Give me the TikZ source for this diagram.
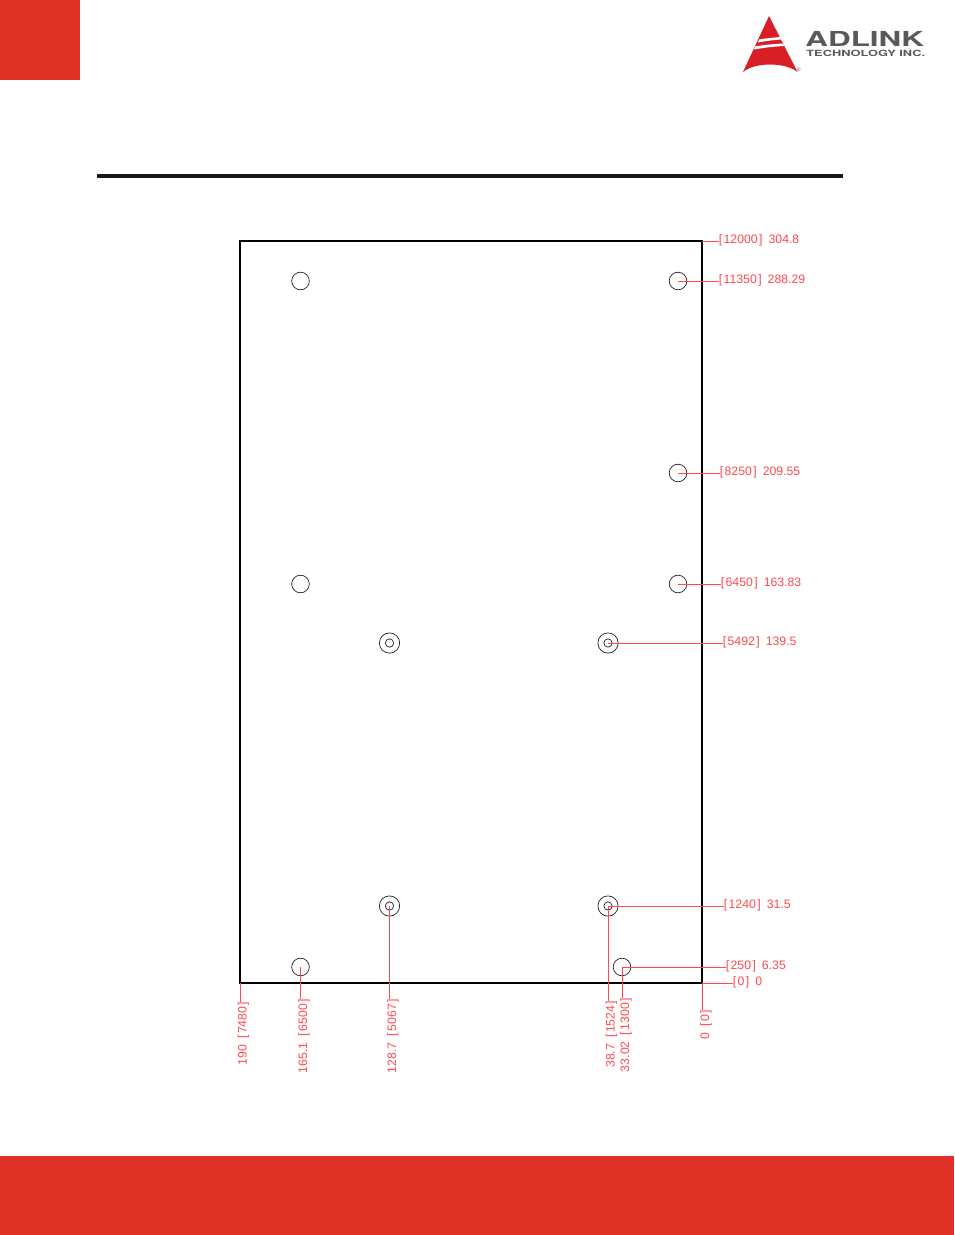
\documentclass[tikz,border=0pt]{standalone}
\usepackage{fontspec}
\setmainfont{Liberation Sans}
\newfontfamily\logofont{TeX Gyre Heros}
\definecolor{brandred}{HTML}{E03127}
\definecolor{dimred}{HTML}{FF4A4F}
\definecolor{logored}{HTML}{D91F26}
\definecolor{logogray}{HTML}{58595B}
\tikzset{
  board/.style={draw=black,line width=1.5pt},
  hole/.style={circle,draw=black!85,line width=0.55pt,minimum size=13.2pt,inner sep=0pt},
  outerring/.style={circle,draw=black!85,line width=0.55pt,minimum size=15.2pt,inner sep=0pt},
  innerring/.style={circle,draw=black!85,line width=0.55pt,minimum size=6.2pt,inner sep=0pt},
  leader/.style={draw=dimred,line width=0.7pt},
  dimh/.style={text=dimred,font=\fontsize{9.2pt}{10pt}\selectfont,anchor=west,inner sep=0pt},
  dimv/.style={text=dimred,font=\fontsize{9.2pt}{10pt}\selectfont,anchor=east,rotate=90,inner sep=0pt},
}
\newcommand{\gapp}{\hspace{4.5pt}}
\newcommand{\lbk}{[\hspace{1.1pt}}
\newcommand{\rbk}{\hspace{1.1pt}]}
\begin{document}
\begin{tikzpicture}[x=0.75pt,y=-0.75pt]
\useasboundingbox (0,0) rectangle (954,1235);
\fill[white] (0,0) rectangle (954,1235);
\fill[brandred] (0,0) rectangle (80,80);
\fill[brandred] (0,1156) rectangle (954,1235);
\fill[black!90] (97,174) rectangle (843,178);
% logo
\fill[logored] (769,16) -- (797.5,72) .. controls (785,62) and (755,62) .. (743,72) -- cycle;
\fill[white] (759,39.5) .. controls (768,38) and (775,37.5) .. (780,37) -- (781,39.5) .. controls (774,40) and (766,41) .. (758,42.5) -- cycle;
\fill[white] (755,46.5) .. controls (766,44.5) and (775,44) .. (783,43.5) -- (784,46) .. controls (775,46.5) and (765,47.5) .. (754,49.5) -- cycle;
\node[inner sep=0pt,anchor=west,text=logogray,font=\logofont\bfseries\fontsize{15.5pt}{16pt}\selectfont,xscale=1.52] (logoa) at (805,38.5) {ADLINK};
\node[inner sep=0pt,anchor=west,text=logogray,font=\logofont\bfseries\fontsize{6.4pt}{7pt}\selectfont,xscale=1.5] (logob) at (806,53.5) {TECHNOLOGY INC.};
\node[inner sep=0pt,text=logogray,font=\fontsize{4pt}{4pt}\selectfont] (logoc) at (798.5,69.5) {®};
% board
\draw[board] (240,241) rectangle (702,983);
\coordinate (TR) at (702,241);
\coordinate (BR) at (702,983);
\coordinate (BL) at (240,983);
% holes
\node[hole] (h1) at (300.5,281) {};
\node[hole] (h2) at (678,281) {};
\node[hole] (h3) at (678,473) {};
\node[hole] (h4) at (300.5,584) {};
\node[hole] (h5) at (678,584) {};
\node[hole] (h6) at (300.5,967) {};
\node[hole] (h7) at (622,967) {};
\node[outerring] (r1) at (389.5,643) {};
\node[innerring] (i1) at (389.5,643) {};
\node[outerring] (r2) at (608,643) {};
\node[innerring] (i2) at (608,643) {};
\node[outerring] (r3) at (389.5,906) {};
\node[innerring] (i3) at (389.5,906) {};
\node[outerring] (r4) at (608,906) {};
\node[innerring] (i4) at (608,906) {};
% right labels
\node[dimh] (a1) at (718.5,240.5) {\lbk 12000\rbk\gapp 304.8};
\node[dimh] (a2) at (718.5,280.5) {\lbk 11350\rbk\gapp 288.29};
\node[dimh] (a3) at (719.5,472) {\lbk 8250\rbk\gapp 209.55};
\node[dimh] (a4) at (720.5,583) {\lbk 6450\rbk\gapp 163.83};
\node[dimh] (a5) at (722.5,642.5) {\lbk 5492\rbk\gapp 139.5};
\node[dimh] (a6) at (723.5,905) {\lbk 1240\rbk\gapp 31.5};
\node[dimh] (a7) at (725.5,966.5) {\lbk 250\rbk\gapp 6.35};
\node[dimh] (a8) at (732.5,982) {\lbk 0\rbk\gapp 0};
\draw[leader] (TR) -- (a1.west |- TR);
\draw[leader] (h2.center) -- (a2.west |- h2.center);
\draw[leader] (h3.center) -- (a3.west |- h3.center);
\draw[leader] (h5.center) -- (a4.west |- h5.center);
\draw[leader] (r2.center) -- (a5.west |- r2.center);
\draw[leader] (r4.center) -- (a6.west |- r4.center);
\draw[leader] (h7.center) -- (a7.west |- h7.center);
\draw[leader] (BR) -- (a8.west |- BR);
% bottom labels
\node[dimv] (b1) at (243.5,1001.5) {190\gapp \lbk 7480\rbk};
\node[dimv] (b2) at (304,999) {165.1\gapp \lbk 6500\rbk};
\node[dimv] (b3) at (393,999) {128.7\gapp \lbk 5067\rbk};
\node[dimv] (b4) at (611.5,1000.5) {38.7\gapp \lbk 1524\rbk};
\node[dimv] (b5) at (626,998) {33.02\gapp \lbk 1300\rbk};
\node[dimv] (b6) at (706,1010) {0\gapp \lbk 0\rbk};
\draw[leader] (BL) -- (BL |- b1.east);
\draw[leader] (h6.center) -- (h6.center |- b2.east);
\draw[leader] (r3.center) -- (r3.center |- b3.east);
\draw[leader] (r4.center) -- (r4.center |- b4.east);
\draw[leader] (h7.center) -- (h7.center |- b5.east);
\draw[leader] (BR) -- (BR |- b6.east);
\end{tikzpicture}
\end{document}
